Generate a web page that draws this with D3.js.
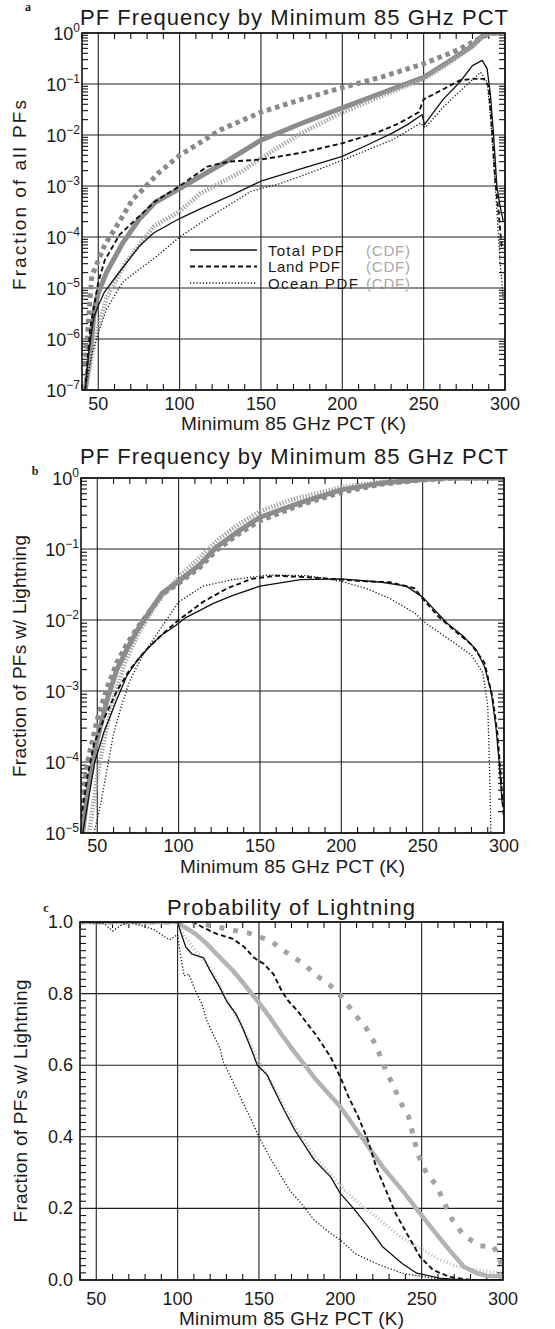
<!DOCTYPE html>
<html>
<head>
<meta charset="utf-8">
<title>PF Frequency by Minimum 85 GHz PCT</title>
<style>
  body { margin: 0; background: white; }
  svg { display: block; background: white; }
  text { font-family: "Liberation Sans", Arial, sans-serif; fill: #1a1a1a; }
  .grid { stroke: #1e1e1e; stroke-width: 1.1; }
  .frame { fill: none; stroke: #111; stroke-width: 1.6; }
  .minor { stroke: #111; stroke-width: 1.1; }
  .series { fill: none; stroke-linejoin: round; stroke-linecap: butt; }
  .letter { font-family: "Liberation Serif", serif; font-weight: bold; font-size: 12px; }
</style>
</head>
<body>
<svg id="chart"></svg>
<script src="https://cdnjs.cloudflare.com/ajax/libs/d3/7.8.5/d3.min.js"></script>
<script>
// ---- axis ticks / labels ----
var xTicks = [50, 100, 150, 200, 250, 300];
var logTicksA = [1, 1e-1, 1e-2, 1e-3, 1e-4, 1e-5, 1e-6, 1e-7];
var logLabelsA = ["0", "\u22121", "\u22122", "\u22123", "\u22124", "\u22125", "\u22126", "\u22127"];
var logTicksB = [1, 1e-1, 1e-2, 1e-3, 1e-4, 1e-5];
var logLabelsB = ["0", "\u22121", "\u22122", "\u22123", "\u22124", "\u22125"];
var linTicksC = [0, 0.2, 0.4, 0.6, 0.8, 1.0];
var linLabelsC = ["0.0", "0.2", "0.4", "0.6", "0.8", "1.0"];
var legendNames = ["Total PDF", "Land PDF", "Ocean PDF"];

// ---- panel a: fraction of all PFs, [PCT K, fraction] ----
var aTotalPdf = [[42,1e-7],[44,5e-7],[47,2.5e-6],[50,4.5e-6],[53.5,8e-6],[61,1.7e-5],[75,6.5e-5],[84,1.2e-4],[100,2.3e-4],[113,3.6e-4],[132,6.6e-4],[150,1.25e-3],[175,2.2e-3],[200,3.8e-3],[215,6.3e-3],[231,1.1e-2],[240,1.6e-2],[249,2.5e-2],[250.5,1.6e-2],[255,2.5e-2],[262,5e-2],[272,0.107],[280,0.23],[286,0.29],[289,0.2],[291,0.063],[293,0.01],[295,1e-3],[297,4e-4],[299,2e-4]];
var aLandPdf = [[42,1e-7],[45,1.6e-6],[50,1.3e-5],[54,3.5e-5],[63,1.1e-4],[73,2.2e-4],[85,5e-4],[100,1e-3],[117,2.4e-3],[130,3e-3],[150,3.3e-3],[175,4.5e-3],[200,6.9e-3],[221,1.1e-2],[235,1.7e-2],[247,2.8e-2],[250,5e-2],[262,7.9e-2],[272,0.117],[280,0.126],[287,0.126],[290,0.09],[292,0.0126],[294,1.3e-3],[296,3.2e-4],[298,6.3e-5]];
var aOceanPdf = [[42,1e-7],[46,5e-7],[50,1.3e-6],[55,3.8e-6],[65,1.3e-5],[75,2.3e-5],[86,4.2e-5],[100,1e-4],[117,2.3e-4],[144,7.9e-4],[161,1.1e-3],[180,1.8e-3],[200,3.2e-3],[231,8.1e-3],[248,1.7e-2],[251,1.4e-2],[262,3.5e-2],[276,9.3e-2],[285,0.17],[289,0.11],[291,2.5e-2],[293,3.2e-3],[295,3.2e-4],[297,3.2e-5],[299,6e-6]];
var aTotalCdf = [[42,1e-7],[45,5e-7],[47.7,4e-6],[50,8e-6],[55,2e-5],[65,7.6e-5],[75,2.2e-4],[85,4.8e-4],[100,8.9e-4],[115,1.7e-3],[130,3.2e-3],[150,7.9e-3],[175,1.7e-2],[200,3.4e-2],[225,6.8e-2],[250,0.135],[265,0.27],[280,0.56],[287,0.93],[290,1],[300,1]];
var aLandCdf = [[42,3e-7],[46,1.7e-5],[54,7e-5],[63,2e-4],[71,5.4e-4],[77,8.3e-4],[87,1.8e-3],[100,4e-3],[110,6.3e-3],[125,1.26e-2],[150,2.8e-2],[175,5e-2],[200,8.5e-2],[225,0.14],[250,0.25],[270,0.45],[285,0.8],[292,1],[300,1]];
var aOceanCdf = [[42,1e-7],[48,1e-6],[55,6.3e-6],[67,3.2e-5],[84,1.6e-4],[100,3.2e-4],[113,7.2e-4],[138,1.9e-3],[150,3.5e-3],[175,1.1e-2],[200,2.75e-2],[225,6e-2],[250,0.126],[265,0.25],[280,0.54],[288,0.93],[292,1],[300,1]];

// ---- panel b: fraction of PFs with lightning ----
var bTotalPdf = [[41,1e-5],[44,2.5e-5],[48.5,1e-4],[54,2.6e-4],[62,7.6e-4],[68,1.6e-3],[75,2.8e-3],[83,4.4e-3],[89,6e-3],[98,8.3e-3],[104,1.07e-2],[114,1.4e-2],[121,1.7e-2],[133,2.2e-2],[150,3e-2],[175,3.7e-2],[200,3.8e-2],[225,3.4e-2],[240,3e-2],[250,2.1e-2],[265,9e-3],[275,5.9e-3],[283,3.8e-3],[288,2.2e-3],[292,1e-3],[295,3.2e-4],[297,1e-4],[299,2.5e-5]];
var bLandPdf = [[40,1.6e-5],[44,6.3e-5],[48,1.8e-4],[54,4e-4],[62,1e-3],[70,2e-3],[80,3.8e-3],[90,6.3e-3],[100,1e-2],[115,1.8e-2],[130,2.8e-2],[145,3.8e-2],[160,4.2e-2],[180,4e-2],[200,3.7e-2],[215,3.5e-2],[230,3.4e-2],[245,2.8e-2],[250,2e-2],[260,1.1e-2],[270,7e-3],[280,4.5e-3],[288,2.5e-3],[293,8e-4],[296,2.5e-4],[298,6.3e-5],[300,1.6e-5]];
var bOceanPdf = [[48,1e-5],[52,2.5e-5],[56,7.9e-5],[60,2.5e-4],[65,6.3e-4],[70,1.4e-3],[78,3.2e-3],[88,7e-3],[100,1.8e-2],[115,3e-2],[133,3.7e-2],[155,4.3e-2],[180,4.2e-2],[200,3.5e-2],[215,2.8e-2],[230,2e-2],[245,1.26e-2],[252,9e-3],[265,5.6e-3],[280,3.2e-3],[287,1.8e-3],[290,6.3e-4],[291,1e-4],[292,1e-5]];
var bTotalCdf = [[41,1e-5],[44.6,4.7e-5],[50,2.1e-4],[56,7.4e-4],[62,2e-3],[68,3.8e-3],[75,7.4e-3],[83,1.4e-2],[90,2.4e-2],[100,3.5e-2],[113,6e-2],[123,0.105],[138,0.186],[150,0.28],[175,0.45],[200,0.68],[225,0.85],[250,0.95],[265,1],[300,1]];
var bLandCdf = [[40,2e-5],[44,1e-4],[50,4e-4],[56,1.1e-3],[62,2.5e-3],[68,4.5e-3],[75,8e-3],[83,1.4e-2],[90,2.3e-2],[100,3.3e-2],[113,5.5e-2],[123,9.5e-2],[138,0.17],[150,0.25],[175,0.42],[200,0.63],[225,0.82],[250,0.94],[270,1],[300,1]];
var bOceanCdf = [[45,1e-5],[50,6.3e-5],[55,2.5e-4],[60,7.9e-4],[67,2.5e-3],[75,6.3e-3],[83,1.26e-2],[90,2.2e-2],[100,4e-2],[113,7.6e-2],[125,0.14],[138,0.23],[150,0.34],[170,0.5],[200,0.74],[225,0.89],[250,0.98],[260,1],[300,1]];

// ---- panel c: probability of lightning ----
var cTotal = [[40,1],[100,1],[102,0.97],[105,0.93],[109,0.91],[116,0.9],[120,0.864],[126,0.817],[130,0.78],[136,0.742],[140,0.704],[145,0.648],[149,0.6],[155,0.573],[159,0.535],[165,0.479],[172,0.419],[184,0.335],[194,0.288],[200,0.242],[209,0.195],[217,0.149],[226,0.093],[238,0.046],[247,0.019],[261,0.005],[275,0],[300,0]];
var cLand = [[40,1],[110,1],[115,0.986],[124,0.967],[134,0.953],[141,0.93],[147,0.9],[153,0.883],[159,0.854],[164,0.807],[168,0.78],[174,0.75],[180,0.714],[185,0.685],[194,0.623],[200,0.567],[205,0.512],[211,0.456],[217,0.39],[222,0.316],[228,0.251],[234,0.186],[242,0.121],[249,0.065],[257,0.028],[267,0.009],[280,0],[300,0]];
var cOcean = [[40,1],[55,0.995],[60,0.975],[65,0.99],[70,1],[85,0.98],[95,0.95],[100,0.965],[102,0.9],[104,0.85],[107,0.854],[111,0.807],[115,0.77],[118,0.723],[122,0.685],[126,0.648],[128,0.61],[134,0.554],[138,0.516],[145,0.45],[150,0.4],[157,0.34],[165,0.28],[169,0.25],[176,0.214],[184,0.167],[194,0.13],[200,0.112],[209,0.074],[222,0.046],[238,0.019],[251,0.009],[265,0],[300,0]];
var cTotalCdf = [[40,1],[100,1],[101,0.995],[111,0.967],[118,0.939],[126,0.901],[134,0.864],[141,0.826],[149,0.78],[157,0.732],[164,0.685],[172,0.636],[180,0.59],[185,0.56],[200,0.484],[213,0.4],[226,0.316],[238,0.251],[247.5,0.195],[257,0.14],[267,0.084],[276,0.037],[284,0.019],[290,0.012],[300,0.01]];
var cLandCdf = [[40,1],[110,1],[115,0.995],[134,0.977],[143,0.97],[157,0.948],[165,0.92],[170,0.906],[176,0.887],[182,0.865],[187,0.845],[194,0.822],[200,0.795],[210,0.736],[216,0.703],[222,0.655],[228,0.585],[232,0.549],[237,0.497],[242,0.456],[247.5,0.353],[253,0.298],[259,0.265],[265,0.205],[269,0.167],[275,0.13],[280,0.112],[286,0.095],[294,0.095],[297,0.07],[300,0.03]];
var cOceanCdf = [[40,1],[100,1],[103,0.97],[110,0.925],[120,0.87],[130,0.785],[140,0.705],[150,0.61],[160,0.53],[172,0.43],[185,0.34],[195,0.29],[203,0.25],[215,0.2],[222,0.177],[237,0.12],[251,0.084],[260,0.06],[272,0.037],[284,0.028],[300,0.02]];

// ---- styles ----
var black = { totalPdf: {stroke: "#111", width: 1.3, dash: null},
              landPdf:  {stroke: "#111", width: 1.9, dash: "5,3"},
              oceanPdf: {stroke: "#111", width: 1.3, dash: "1.2,2"} };
var grayAB = { totalCdf: {stroke: "#8c8c8c", width: 5, dash: null},
               landCdf:  {stroke: "#8a8a8a", width: 5, dash: "4.5,4"},
               oceanCdf: {stroke: "#a6a6a6", width: 4.5, dash: "1.4,1.6"} };
var grayC = { totalCdf: {stroke: "#b3b3b3", width: 4.5, dash: null},
              landCdf:  {stroke: "#a3a3a3", width: 5, dash: "5,9"},
              oceanCdf: {stroke: "#c6c6c6", width: 3.5, dash: "1.2,2.2"} };

var svg = d3.select("#chart").attr("width", 555).attr("height", 1329);

var panels = [
  { letter: "a", letterPos: [28, 11], title: "PF Frequency by Minimum 85 GHz PCT", titleX: [80, 428], titleY: 25,
    ylabel: "Fraction of all PFs", ylabelPos: [20, 195, 190],
    left: 82, right: 505, top: 33, bottom: 390, tickY: 410, xlabelY: 430,
    log: true, yDomain: [1e-7, 1], yTicks: logTicksA, yLabels: logLabelsA,
    series: [[aTotalCdf, grayAB.totalCdf], [aLandCdf, grayAB.landCdf], [aOceanCdf, grayAB.oceanCdf],
             [aOceanPdf, black.oceanPdf], [aLandPdf, black.landPdf], [aTotalPdf, black.totalPdf]] },
  { letter: "b", letterPos: [35, 475], title: "PF Frequency by Minimum 85 GHz PCT", titleX: [80, 428], titleY: 464,
    ylabel: "Fraction of PFs w/ Lightning", ylabelPos: [20, 656, 242],
    left: 81, right: 504, top: 478, bottom: 833, tickY: 852, xlabelY: 873,
    log: true, yDomain: [1e-5, 1], yTicks: logTicksB, yLabels: logLabelsB,
    series: [[bLandCdf, grayAB.landCdf], [bOceanCdf, grayAB.oceanCdf], [bTotalCdf, grayAB.totalCdf],
             [bOceanPdf, black.oceanPdf], [bLandPdf, black.landPdf], [bTotalPdf, black.totalPdf]] },
  { letter: "c", letterPos: [46, 912], title: "Probability of Lightning", titleX: [167, 248], titleY: 915,
    ylabel: "Fraction of PFs w/ Lightning", ylabelPos: [21, 1101, 243],
    left: 80, right: 503, top: 922, bottom: 1280, tickY: 1305, xlabelY: 1325,
    log: false, yDomain: [0, 1], yTicks: linTicksC, yLabels: linLabelsC,
    series: [[cOceanCdf, grayC.oceanCdf], [cTotalCdf, grayC.totalCdf], [cLandCdf, grayC.landCdf],
             [cOcean, black.oceanPdf], [cLand, black.landPdf], [cTotal, black.totalPdf]] }
];

panels.forEach(function(p) {
  var x = d3.scaleLinear().domain([40, 300]).range([p.left, p.right]);
  var y = (p.log ? d3.scaleLog() : d3.scaleLinear()).domain(p.yDomain).range([p.bottom, p.top]);
  var g = svg.append("g");

  g.append("clipPath").attr("id", "clip-" + p.letter)
    .append("rect")
    .attr("x", p.left).attr("y", p.top)
    .attr("width", p.right - p.left).attr("height", p.bottom - p.top);

  // grid lines at major ticks
  g.selectAll(".vgrid").data(xTicks).enter().append("line")
    .attr("class", "grid")
    .attr("x1", d => x(d)).attr("x2", d => x(d))
    .attr("y1", p.top).attr("y2", p.bottom);
  g.selectAll(".hgrid").data(p.yTicks).enter().append("line")
    .attr("class", "grid")
    .attr("x1", p.left).attr("x2", p.right)
    .attr("y1", d => y(d)).attr("y2", d => y(d));

  // minor ticks, inward, every 10 K on top and bottom
  var xMinor = d3.range(40, 300, 10).filter(d => d % 50 != 0);
  xMinor.forEach(function(d) {
    g.append("line").attr("class", "minor").attr("x1", x(d)).attr("x2", x(d)).attr("y1", p.bottom).attr("y2", p.bottom - 6);
    g.append("line").attr("class", "minor").attr("x1", x(d)).attr("x2", x(d)).attr("y1", p.top).attr("y2", p.top + 6);
  });

  var yMinor = [];
  if (p.log) {
    var lo = Math.round(Math.log10(p.yDomain[0]));
    for (var e = lo; e < 0; e++) {
      for (var m = 2; m <= 9; m++) yMinor.push(m * Math.pow(10, e));
    }
  } else {
    yMinor = d3.range(0.02, 1, 0.02).filter(d => Math.abs(d * 5 - Math.round(d * 5)) > 1e-6);
  }
  yMinor.forEach(function(d) {
    g.append("line").attr("class", "minor").attr("x1", p.left).attr("x2", p.left + 6).attr("y1", y(d)).attr("y2", y(d));
    g.append("line").attr("class", "minor").attr("x1", p.right).attr("x2", p.right - 6).attr("y1", y(d)).attr("y2", y(d));
  });

  // curves
  var line = d3.line().x(d => x(d[0])).y(d => y(d[1]));
  var sg = g.append("g").attr("clip-path", "url(#clip-" + p.letter + ")");
  p.series.forEach(function(s) {
    sg.append("path")
      .datum(s[0])
      .attr("class", "series")
      .attr("d", line)
      .attr("stroke", s[1].stroke)
      .attr("stroke-width", s[1].width)
      .attr("stroke-dasharray", s[1].dash);
  });

  g.append("rect").attr("class", "frame")
    .attr("x", p.left).attr("y", p.top)
    .attr("width", p.right - p.left).attr("height", p.bottom - p.top);

  // x tick labels
  g.selectAll(".xlab").data(xTicks).enter().append("text")
    .attr("x", d => x(d)).attr("y", p.tickY)
    .attr("text-anchor", "middle").attr("font-size", 18)
    .text(d => d);

  // y tick labels
  if (p.log) {
    p.yTicks.forEach(function(v, i) {
      var t = g.append("text")
        .attr("x", p.left - 2).attr("y", y(v) + 7)
        .attr("text-anchor", "end").attr("font-size", 18);
      t.append("tspan").text("10");
      t.append("tspan").attr("dy", -8).attr("font-size", 12).text(p.yLabels[i]);
    });
  } else {
    p.yTicks.forEach(function(v, i) {
      g.append("text")
        .attr("x", p.left - 7).attr("y", y(v) + 6)
        .attr("text-anchor", "end").attr("font-size", 18)
        .text(p.yLabels[i]);
    });
  }

  // titles
  g.append("text")
    .attr("x", p.titleX[0]).attr("y", p.titleY)
    .attr("font-size", 22)
    .attr("textLength", p.titleX[1]).attr("lengthAdjust", "spacing")
    .text(p.title);

  g.append("text")
    .attr("x", (p.left + p.right) / 2).attr("y", p.xlabelY)
    .attr("text-anchor", "middle").attr("font-size", 19)
    .attr("textLength", 225).attr("lengthAdjust", "spacing")
    .text("Minimum 85 GHz PCT (K)");

  g.append("text")
    .attr("transform", `translate(${p.ylabelPos[0] + 6}, ${p.ylabelPos[1]}) rotate(-90)`)
    .attr("text-anchor", "middle").attr("font-size", 19)
    .attr("textLength", p.ylabelPos[2]).attr("lengthAdjust", "spacing")
    .text(p.ylabel);

  g.append("text").attr("class", "letter")
    .attr("x", p.letterPos[0]).attr("y", p.letterPos[1])
    .attr("text-anchor", "middle")
    .text(p.letter);

  // legend (panel a only)
  if (p.letter == "a") {
    var legStyles = [black.totalPdf, black.landPdf, black.oceanPdf];
    var legRows = [250, 266.5, 283];
    legendNames.forEach(function(name, i) {
      g.append("line")
        .attr("x1", 190).attr("x2", 257)
        .attr("y1", legRows[i]).attr("y2", legRows[i])
        .attr("stroke", legStyles[i].stroke)
        .attr("stroke-width", legStyles[i].width)
        .attr("stroke-dasharray", legStyles[i].dash);
      g.append("text")
        .attr("x", 268).attr("y", legRows[i] + 5.5)
        .attr("font-size", 15)
        .attr("textLength", i == 2 ? 90 : (i == 0 ? 76 : 72)).attr("lengthAdjust", "spacing")
        .text(name);
      g.append("text")
        .attr("x", 366).attr("y", legRows[i] + 5.5)
        .attr("font-size", 15).style("fill", "#a8a8a8")
        .attr("textLength", 44).attr("lengthAdjust", "spacing")
        .text("(CDF)");
    });
  }
});
</script>
</body>
</html>
